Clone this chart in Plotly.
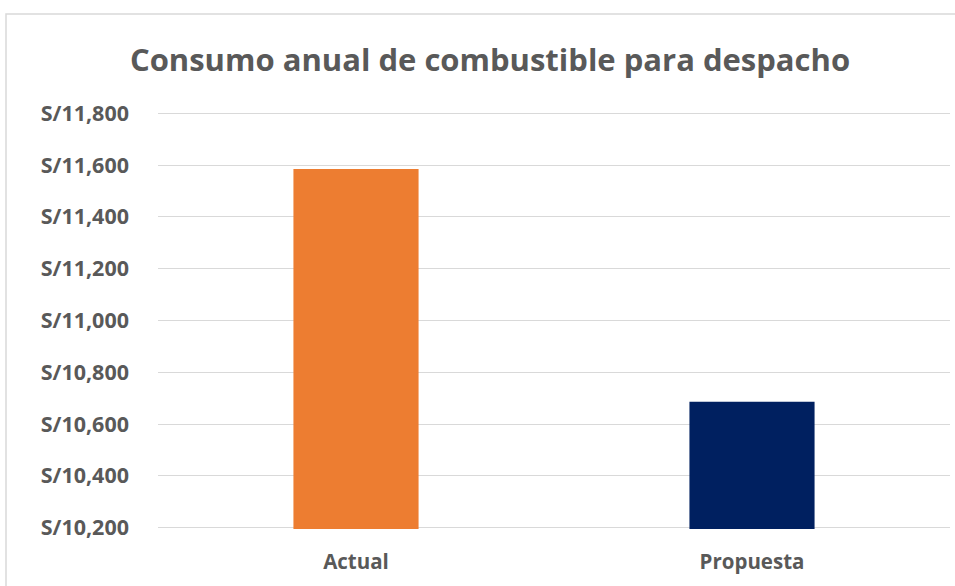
import plotly.graph_objects as go

# Annual fuel cost for dispatch (soles)
categories = ["Actual", "Propuesta"]
values = [11585, 10686]
bar_colors = ["#ED7D31", "#002060"]

y_min, y_max, y_step = 10200, 11800, 200

W, H = 955, 586
ml, mr, mt, mb = 158, 5, 112, 57

fig = go.Figure(
    go.Bar(
        x=categories,
        y=values,
        marker=dict(color=bar_colors, line=dict(width=0)),
        width=0.316,
        hoverinfo="x+y",
    )
)

grey = "#595959"
font_family = "'Open Sans', sans-serif"

plot_w = W - ml - mr
plot_h = H - mt - mb

# light frame around the whole chart area
fig.add_shape(
    type="rect",
    xref="paper", yref="paper",
    x0=(6 - ml) / plot_w, x1=(W + 10 - ml) / plot_w,
    y0=-(H + 10 - (H - mb)) / plot_h, y1=(H - mb - 14) / plot_h,
    line=dict(color="#D9D9D9", width=1.5),
    fillcolor="rgba(0,0,0,0)",
    layer="below",
)

pad = 5  # keep the end gridlines inside the drawn range
fig.update_layout(
    width=W,
    height=H,
    margin=dict(l=ml, r=mr, t=mt, b=mb),
    paper_bgcolor="white",
    plot_bgcolor="white",
    showlegend=False,
    title=dict(
        text="<b>Consumo anual de combustible para despacho</b>",
        x=490 / W, xanchor="center", xref="container",
        y=1 - 60 / H, yanchor="middle", yref="container",
        font=dict(family=font_family, size=31, color=grey),
    ),
    xaxis=dict(
        showgrid=False,
        showline=False,
        ticks="",
        ticklabelstandoff=18,
        tickfont=dict(family=font_family, size=20.5, color=grey, weight="bold"),
    ),
    yaxis=dict(
        range=[y_min - pad, y_max + pad],
        tick0=y_min,
        dtick=y_step,
        tickprefix="S/",
        tickformat=",d",
        showgrid=True,
        gridcolor="#D9D9D9",
        gridwidth=1.3,
        zeroline=False,
        showline=False,
        ticks="",
        ticklabelstandoff=28,
        tickfont=dict(family=font_family, size=21.5, color=grey, weight="bold"),
    ),
)

fig.write_html("out.html")
